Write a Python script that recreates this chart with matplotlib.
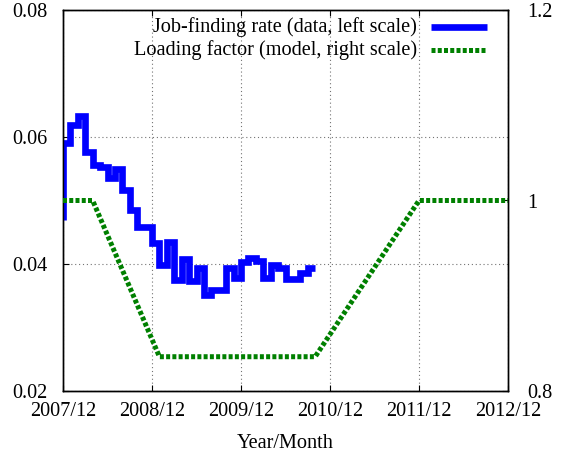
import matplotlib
matplotlib.use("Agg")
import matplotlib.pyplot as plt
from matplotlib.lines import Line2D

# ---- data ----
jfr_months = list(range(35))  # months since 2007/12
jfr_values = [0.0470, 0.0590, 0.0619, 0.0633, 0.0576, 0.0556, 0.0553, 0.0536,
              0.0550, 0.0517, 0.0485, 0.0458, 0.0458, 0.0433, 0.0398, 0.0435,
              0.0375, 0.0408, 0.0373, 0.0394, 0.0351, 0.0359, 0.0359, 0.0394,
              0.0378, 0.0403, 0.0410, 0.0405, 0.0378, 0.0398, 0.0394, 0.0376,
              0.0376, 0.0386, 0.0394]
lf_months = [0, 4, 13, 34, 48, 60]
lf_values = [1.0, 1.0, 0.836, 0.836, 1.0, 1.0]
x_tick_pos = [0, 12, 24, 36, 48, 60]
x_tick_labels = ['2007/12', '2008/12', '2009/12', '2010/12', '2011/12', '2012/12']
y_left_ticks = [0.02, 0.04, 0.06, 0.08]
y_left_labels = ['0.02', '0.04', '0.06', '0.08']
y_right_ticks = [0.8, 1.0, 1.2]
y_right_labels = ['0.8', '1', '1.2']
label_jfr = 'Job-finding rate (data, left scale)'
label_lf = 'Loading factor (model, right scale)'

plt.rcParams['font.family'] = ['Liberation Serif', 'DejaVu Serif']
FS = 14.6

fig = plt.figure(figsize=(5.71, 4.54), dpi=100)
ax = fig.add_axes([63/571, 1-391/454, 445/571, 381/454])
ax2 = ax.twinx()

blue = '#0000ff'
green = '#008000'

ax.plot(jfr_months, jfr_values, color=blue, lw=4.8, drawstyle='steps-pre',
        solid_joinstyle='miter', solid_capstyle='butt', zorder=3)
ax2.plot(lf_months, lf_values, color=green, lw=3.6,
         linestyle=(0, (0.8, 0.45)), dash_capstyle='butt', zorder=3)

ax.set_xlim(0, 60)
ax.set_ylim(0.02, 0.08)
ax2.set_ylim(0.8, 1.2)

ax.set_xticks(x_tick_pos)
ax.set_xticklabels(x_tick_labels, fontsize=FS)
ax.set_yticks(y_left_ticks)
ax.set_yticklabels(y_left_labels, fontsize=FS)
ax2.set_yticks(y_right_ticks)
ax2.set_yticklabels(y_right_labels, fontsize=FS)

ax.tick_params(axis='x', direction='in', length=4, width=0.8, top=True, pad=8)
ax.tick_params(axis='y', direction='in', length=4, width=0.8, pad=11)
ax2.tick_params(axis='y', direction='in', length=4, width=0.8, pad=14)

ax.grid(True, color='0.45', linestyle=(0, (1, 2.5)), linewidth=0.8)
ax.set_axisbelow(True)

for a in (ax, ax2):
    for s in a.spines.values():
        s.set_linewidth(1.0)
        s.set_color('black')

ax.set_xlabel('Year/Month', fontsize=FS, labelpad=9)

# legend (gnuplot style: right-justified text, sample to the right)
ax2.text(0.795, 0.955, label_jfr, transform=ax2.transAxes, ha='right', va='center', fontsize=FS)
ax2.text(0.795, 0.895, label_lf, transform=ax2.transAxes, ha='right', va='center', fontsize=FS)
ax2.add_line(Line2D([0.828, 0.953], [0.955, 0.955], transform=ax2.transAxes,
                    color=blue, lw=4.8, solid_capstyle='butt'))
ax2.add_line(Line2D([0.828, 0.953], [0.895, 0.895], transform=ax2.transAxes,
                    color=green, lw=3.6, linestyle=(0, (0.8, 0.45)), dash_capstyle='butt'))

fig.savefig('out.png', dpi=100)
